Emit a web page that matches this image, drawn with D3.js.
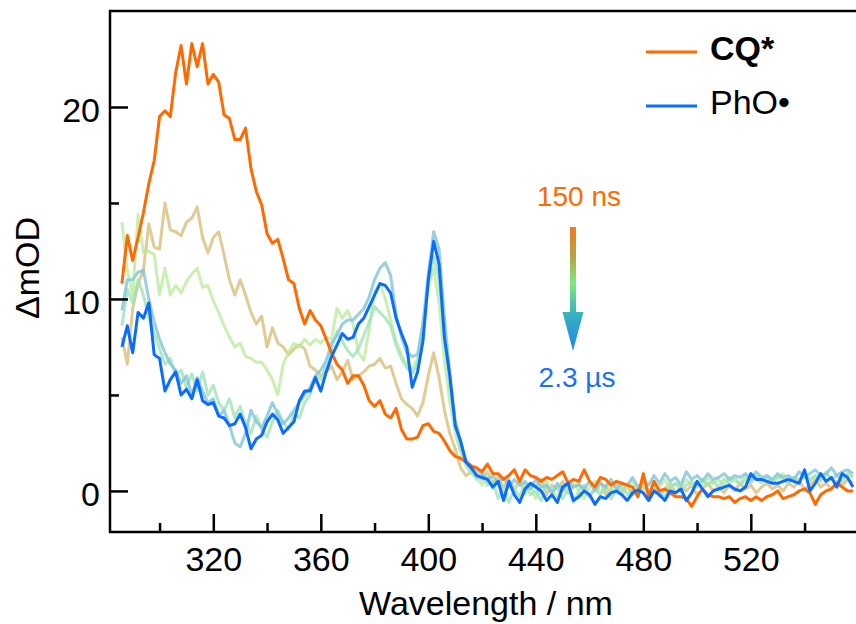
<!DOCTYPE html>
<html>
<head>
<meta charset="utf-8">
<script src="https://cdn.jsdelivr.net/npm/d3@7"></script>
<style>
  body { margin: 0; background: #fff; }
  svg { font-family: "Liberation Sans", Arial, sans-serif; }
</style>
</head>
<body>
<div id="chart"></div>
<script>
// wavelength grid (nm), 2 nm steps from 286 to 558
var wavelengths = d3.range(286, 559, 2);

// 150 ns (CQ*)
var cq = [
  10.8, 13.3, 12.0, 13.2, 14.5, 16.0, 17.2, 19.5, 19.8, 19.5,
  21.8, 23.2, 21.2, 23.3, 22.1, 23.3, 21.2, 21.7, 21.3, 19.6,
  19.4, 18.3, 18.3, 18.9, 16.8, 15.6, 14.9, 13.4, 12.9, 13.1,
  12.1, 11.0, 10.8, 9.5, 8.7, 9.4, 8.9, 8.6, 7.9, 7.2,
  6.6, 6.3, 5.6, 6.0, 6.0, 5.5, 4.7, 4.4, 4.7, 4.0,
  3.8, 4.3, 3.2, 2.7, 2.7, 2.8, 3.4, 3.5, 3.1, 3.0,
  2.6, 2.1, 1.8, 1.7, 1.5, 1.3, 1.2, 1.0, 1.4, 0.9,
  0.9, 0.6, 0.8, 1.1, 0.5, 1.1, 0.8, 0.7, 0.5, 0.7,
  0.6, 0.8, 1.0, 0.4, 0.6, 0.5, 1.1, 0.5, 0.2, 0.7,
  0.6, 0.3, 0.5, 0.4, 0.3, 0.2, -0.3, 0.9, -0.3, 0.5,
  0.0, 0.1, -0.1, -0.3, -0.3, -0.4, -0.8, -0.3, 0.1, -0.2,
  -0.3, -0.3, -0.4, -0.3, -0.6, -0.4, -0.3, -0.5, -0.3, -0.5,
  -0.3, -0.2, 0.0, -0.4, -0.3, -0.2, 0.0, 0.1, -0.1, -0.7,
  -0.2, 0.0, 0.1, 0.4, 0.2, 0.0, 0.0
];

// intermediate delays
var t2 = [
  8.0, 6.6, 9.5, 10.8, 11.5, 13.9, 12.7, 12.6, 15.0, 13.6,
  13.5, 13.3, 14.0, 14.2, 14.8, 13.2, 12.4, 13.2, 13.5, 12.3,
  11.0, 10.2, 11.0, 10.2, 9.3, 8.7, 9.1, 7.5, 8.5, 7.7,
  7.5, 7.1, 7.4, 7.6, 7.4, 6.5, 6.3, 6.0, 6.2, 6.5,
  5.8, 6.2, 6.8, 5.8, 6.0, 6.2, 6.5, 6.6, 6.9, 6.4,
  6.5, 5.6, 4.8, 4.5, 4.3, 3.9, 4.6, 6.0, 7.2, 5.9,
  4.2, 3.0, 2.2, 1.2, 0.8, 1.0, 0.9, 0.6, 1.0, 0.4,
  0.7, 0.2, 0.6, 0.1, 0.5, -0.1, 0.4, 0.2, 0.6, -0.2,
  0.3, 0.1, 0.5, -0.1, 0.2, 0.4, 0.0, -0.3, 0.2, 0.5,
  -0.2, 0.1, 0.4, 0.0, 0.3, -0.2, 0.1, 0.5, 0.0, 0.2,
  -0.3, 0.1, 0.4, -0.1, 0.2, 0.0, 0.3, -0.2, 0.1, 0.4,
  0.0, 0.2, -0.1, 0.3, 0.0, 0.4, 0.1, 0.3, -0.1, 0.2,
  0.4, 0.1, 0.3, 0.0, 0.4, 0.2, 0.5, 0.1, 0.3, 0.6,
  0.2, 0.4, 0.1, 0.5, 0.3, 0.6, 0.4
];

var t3 = [
  14.0, 11.5, 10.2, 14.4, 12.4, 12.5, 12.3, 10.2, 11.6, 10.2,
  10.7, 10.3, 10.9, 11.3, 11.6, 10.6, 10.7, 9.9, 9.3, 8.6,
  8.0, 7.5, 7.7, 7.0, 6.9, 6.7, 6.7, 6.3, 5.8, 5.0,
  6.6, 7.2, 7.7, 7.5, 7.9, 7.6, 7.9, 7.7, 8.0, 7.9,
  9.5, 9.0, 9.4, 8.7, 7.2, 6.8, 8.4, 10.4, 10.8, 10.0,
  8.9, 7.8, 7.1, 6.6, 6.3, 6.9, 8.8, 10.6, 11.6, 9.8,
  6.8, 4.6, 3.0, 2.0, 1.3, 0.9, 0.7, 0.3, 0.8, 0.1,
  0.5, -0.3, 0.4, 0.0, 0.6, -0.2, 0.3, -0.4, 0.2, 0.5,
  0.0, -0.3, 0.3, -0.1, 0.4, 0.0, -0.4, 0.2, 0.5, -0.1,
  0.3, 0.0, 0.4, -0.2, 0.2, 0.5, 0.0, 0.3, -0.1, 0.4,
  0.2, 0.6, 0.1, 0.4, 0.2, 0.6, 0.3, 0.5, 0.2, 0.7,
  0.4, 0.6, 0.3, 0.7, 0.5, 0.4, 0.8, 0.5, 0.7, 0.4,
  0.8, 0.5, 0.6, 0.9, 0.5, 0.7, 0.6, 0.9, 0.5, 0.8,
  0.7, 1.0, 0.6, 0.8, 0.7, 0.9, 0.8
];

var t4 = [
  8.6, 10.5, 9.8, 11.0, 10.2, 9.0, 8.2, 7.4, 6.6, 6.9,
  6.0, 6.3, 5.4, 6.1, 5.2, 6.2, 5.0, 5.5, 4.6, 4.2,
  4.8, 3.8, 4.4, 3.5, 3.0, 3.9, 3.2, 2.8, 3.6, 4.2,
  3.6, 3.2, 4.0, 3.8, 4.6, 5.0, 6.0, 5.8, 6.6, 7.4,
  8.3, 7.8, 7.3, 7.0, 7.4, 8.1, 8.8, 9.6, 9.3, 9.0,
  8.6, 7.6, 6.9, 6.4, 6.1, 6.6, 8.4, 10.8, 12.2, 11.0,
  8.0, 5.5, 3.6, 2.2, 1.5, 1.0, 0.6, 0.9, 0.3, 0.5,
  -0.4, 0.2, -0.6, 0.1, -0.3, 0.4, -0.2, 0.0, -0.5, 0.3,
  -0.1, 0.2, -0.4, 0.1, -0.6, 0.0, 0.3, -0.3, 0.1, -0.2,
  0.2, -0.4, 0.0, 0.3, -0.2, 0.1, -0.3, 0.2, -0.1, 0.3,
  0.0, -0.3, 0.2, 0.4, 0.0, 0.3, 0.5, 0.2, 0.6, 0.3,
  0.5, 0.2, 0.6, 0.4, 0.7, 0.3, 0.6, 0.4, 0.8, 0.5,
  0.7, 0.4, 0.8, 0.6, 0.4, 0.7, 0.5, 0.9, 0.6, 0.8,
  0.5, 0.9, 0.6, 0.8, 0.5, 0.9, 0.7
];

var t5 = [
  9.4, 11.0, 11.0, 11.4, 11.5, 10.0, 8.8, 7.9, 7.2, 6.6,
  6.3, 5.6, 6.0, 5.0, 5.9, 5.2, 4.6, 4.8, 3.9, 4.2,
  3.4, 2.5, 2.3, 3.0, 4.2, 3.6, 3.3, 3.9, 4.6, 4.0,
  3.5, 3.8, 4.2, 4.6, 5.0, 5.4, 6.0, 6.3, 6.8, 7.7,
  8.1, 8.7, 8.9, 8.9, 9.2, 9.5, 10.1, 11.0, 11.6, 11.9,
  11.2, 9.2, 8.0, 7.2, 7.0, 7.1, 8.7, 11.3, 13.5, 12.6,
  9.0, 6.1, 3.7, 2.6, 1.6, 1.3, 1.1, 0.9, 0.6, 0.8,
  0.4, 0.7, 0.2, 0.6, 0.3, 0.5, 0.1, 0.6, 0.2, 0.3,
  -0.1, 0.4, 0.0, 0.5, 0.2, 0.3, 0.1, 0.5, 0.0, 0.4,
  0.2, 0.6, 0.1, 0.4, 0.3, 0.7, 0.2, 0.5, 0.3, 0.8,
  0.4, 0.9, 0.5, 0.7, 0.3, 1.0, 0.6, 0.8, 0.5, 0.9,
  0.6, 0.7, 0.9, 0.6, 0.8, 0.7, 0.9, 0.6, 1.0, 0.7,
  0.8, 0.6, 0.9, 0.7, 0.8, 0.6, 1.0, 0.7, 0.9, 1.1,
  0.8, 0.9, 1.2, 0.8, 1.0, 1.1, 0.9
];

// 2.3 us (PhO•)
var pho = [
  7.5, 8.6, 7.2, 9.3, 9.0, 9.8, 7.1, 6.9, 5.2, 5.8,
  6.2, 5.0, 5.3, 4.8, 5.8, 4.7, 4.5, 4.6, 3.9, 3.8,
  3.4, 3.5, 4.0, 3.3, 2.2, 2.7, 2.9, 3.6, 4.0, 3.7,
  3.0, 3.3, 3.6, 4.7, 5.2, 5.2, 5.9, 5.2, 6.2, 7.0,
  7.6, 8.2, 7.9, 8.0, 8.7, 9.0, 9.6, 10.2, 10.8, 10.7,
  10.3, 9.0, 8.2, 7.5, 5.4, 6.2, 7.8, 11.0, 13.0, 11.8,
  8.0, 6.0, 3.4, 2.6, 1.5, 1.2, 0.8, 0.7, 0.6, 0.2,
  0.5, -0.5, 0.5, -0.2, -0.6, 0.1, 0.4, 0.2, 0.0, -0.5,
  -0.2, -0.6, 0.2, 0.4, -0.5, -0.3, 0.0, -0.2, -0.7, -0.3,
  -0.4, -0.1, 0.0, -0.2, -0.5, -0.1, 0.05, -0.1, -0.5, 0.0,
  -0.2, -0.5, 0.0, -0.1, 0.1, -0.5, -0.1, 0.5, 0.1, -0.3,
  0.0, 0.1, 0.2, 0.3, 0.1, 0.0, 0.2, 0.9, 0.6, 0.6,
  0.5, 0.4, 0.4, 0.5, 0.6, 0.5, 0.4, 1.1, 0.0, 0.4,
  0.9, 0.5, 0.7, 0.2, 0.9, 0.7, 0.2
];

// draw order: faint intermediates first, then the two highlighted spectra
var seriesList = [t2, t3, t4, t5, cq, pho];
var seriesColors = ["#dcc282", "#bdeb9f", "#9fe3b6", "#86c8da", "#ff6a00", "#0a6dff"];
var seriesOpacity = [0.85, 0.8, 0.8, 0.85, 1, 1];

var legendLabels = ["CQ*", "PhO\u2022"];
var legendColors = ["#ff6a00", "#0a6dff"];

var xMajor = [320, 360, 400, 440, 480, 520];
var xMinor = [300, 340, 380, 420, 460, 500, 540];
var yMajor = [0, 10, 20];
var yMinor = [5, 15];

var options = {
    width: 856, height: 624,
    margin: { left: 110, top: 11, right: 0, bottom: 92 },
    font: 34
};

var W = options.width - options.margin.left - options.margin.right;
var H = options.height - options.margin.top - options.margin.bottom;

var xScale = d3.scaleLinear().domain([281.56, 559.14]).range([0, W]);
var yScale = d3.scaleLinear().domain([-2.14, 25.0]).range([H, 0]);

var svg = d3.select("#chart")
    .append("svg")
    .attr("width", options.width)
    .attr("height", options.height);

var defs = svg.append("defs");
defs.append("clipPath").attr("id", "plotclip")
    .append("rect").attr("width", W).attr("height", H);

var grad = defs.append("linearGradient")
    .attr("id", "arrowgrad")
    .attr("x1", 0).attr("y1", 0).attr("x2", 0).attr("y2", 1);
grad.append("stop").attr("offset", "0%").attr("stop-color", "#f07a1c");
grad.append("stop").attr("offset", "25%").attr("stop-color", "#b0a848");
grad.append("stop").attr("offset", "45%").attr("stop-color", "#80ea80");
grad.append("stop").attr("offset", "68%").attr("stop-color", "#3cb4bc");
grad.append("stop").attr("offset", "100%").attr("stop-color", "#1c86ea");

var g = svg.append("g")
    .attr("transform", "translate(" + options.margin.left + "," + options.margin.top + ")");

// spectra
var line = d3.line()
    .x(function(d, i) { return xScale(wavelengths[i]); })
    .y(function(d) { return yScale(d); });

g.append("g")
    .attr("clip-path", "url(#plotclip)")
    .selectAll("path")
    .data(seriesList)
    .enter().append("path")
    .attr("d", line)
    .attr("fill", "none")
    .attr("stroke", function(d, i) { return seriesColors[i]; })
    .attr("stroke-opacity", function(d, i) { return seriesOpacity[i]; })
    .attr("stroke-width", 3)
    .attr("stroke-linejoin", "round");

// axes (ticks point inward)
function styleAxis(sel) {
    sel.select(".domain").remove();
    sel.selectAll("line").attr("stroke", "#000").attr("stroke-width", 2.5);
    sel.selectAll("text").attr("fill", "#000").style("font-size", options.font + "px");
}

g.append("g")
    .attr("transform", "translate(0," + H + ")")
    .call(d3.axisBottom(xScale).tickValues(xMajor).tickSize(-18).tickPadding(15).tickFormat(d3.format("d")))
    .call(styleAxis);

g.append("g")
    .attr("transform", "translate(0," + H + ")")
    .call(d3.axisBottom(xScale).tickValues(xMinor).tickSize(-9).tickFormat(""))
    .call(styleAxis);

g.append("g")
    .call(d3.axisLeft(yScale).tickValues(yMajor).tickSize(-18).tickPadding(10).tickFormat(d3.format("d")))
    .call(styleAxis)
    .selectAll("text").attr("dy", "0.44em");

g.append("g")
    .call(d3.axisLeft(yScale).tickValues(yMinor).tickSize(-9).tickFormat(""))
    .call(styleAxis);

// frame: left, top, bottom
g.append("path")
    .attr("d", "M" + (W + 5) + ",0H0V" + H + "H" + (W + 5))
    .attr("fill", "none")
    .attr("stroke", "#000")
    .attr("stroke-width", 2.5);

// axis titles
svg.append("text")
    .attr("x", 486)
    .attr("y", 615)
    .attr("text-anchor", "middle")
    .style("font-size", options.font + "px")
    .text("Wavelength / nm");

svg.append("text")
    .attr("text-anchor", "middle")
    .attr("transform", "translate(39,268)rotate(-90)")
    .style("font-size", options.font + "px")
    .text("\u0394mOD");

// legend
var legend = svg.append("g").attr("transform", "translate(646,0)");
legendLabels.forEach(function(lab, i) {
    var yy = 52 + i * 54;
    legend.append("line")
        .attr("x1", 0).attr("x2", 51)
        .attr("y1", yy).attr("y2", yy)
        .attr("stroke", legendColors[i])
        .attr("stroke-width", 3);
    legend.append("text")
        .attr("x", 64)
        .attr("y", yy + 8)
        .style("font-size", options.font + "px")
        .style("font-weight", i === 0 ? "bold" : "normal")
        .text(lab);
});

// time arrow annotation
svg.append("text")
    .attr("x", 579).attr("y", 206)
    .attr("text-anchor", "middle")
    .attr("fill", "#ff6a00")
    .style("font-size", "28px")
    .text("150 ns");

svg.append("text")
    .attr("x", 577).attr("y", 387)
    .attr("text-anchor", "middle")
    .attr("fill", "#1a72f0")
    .style("font-size", "28px")
    .text("2.3 \u00b5s");

svg.append("path")
    .attr("d", "M570,227H576V312H583.5L573,351L562.5,312H570Z")
    .attr("fill", "url(#arrowgrad)");
</script>
</body>
</html>
